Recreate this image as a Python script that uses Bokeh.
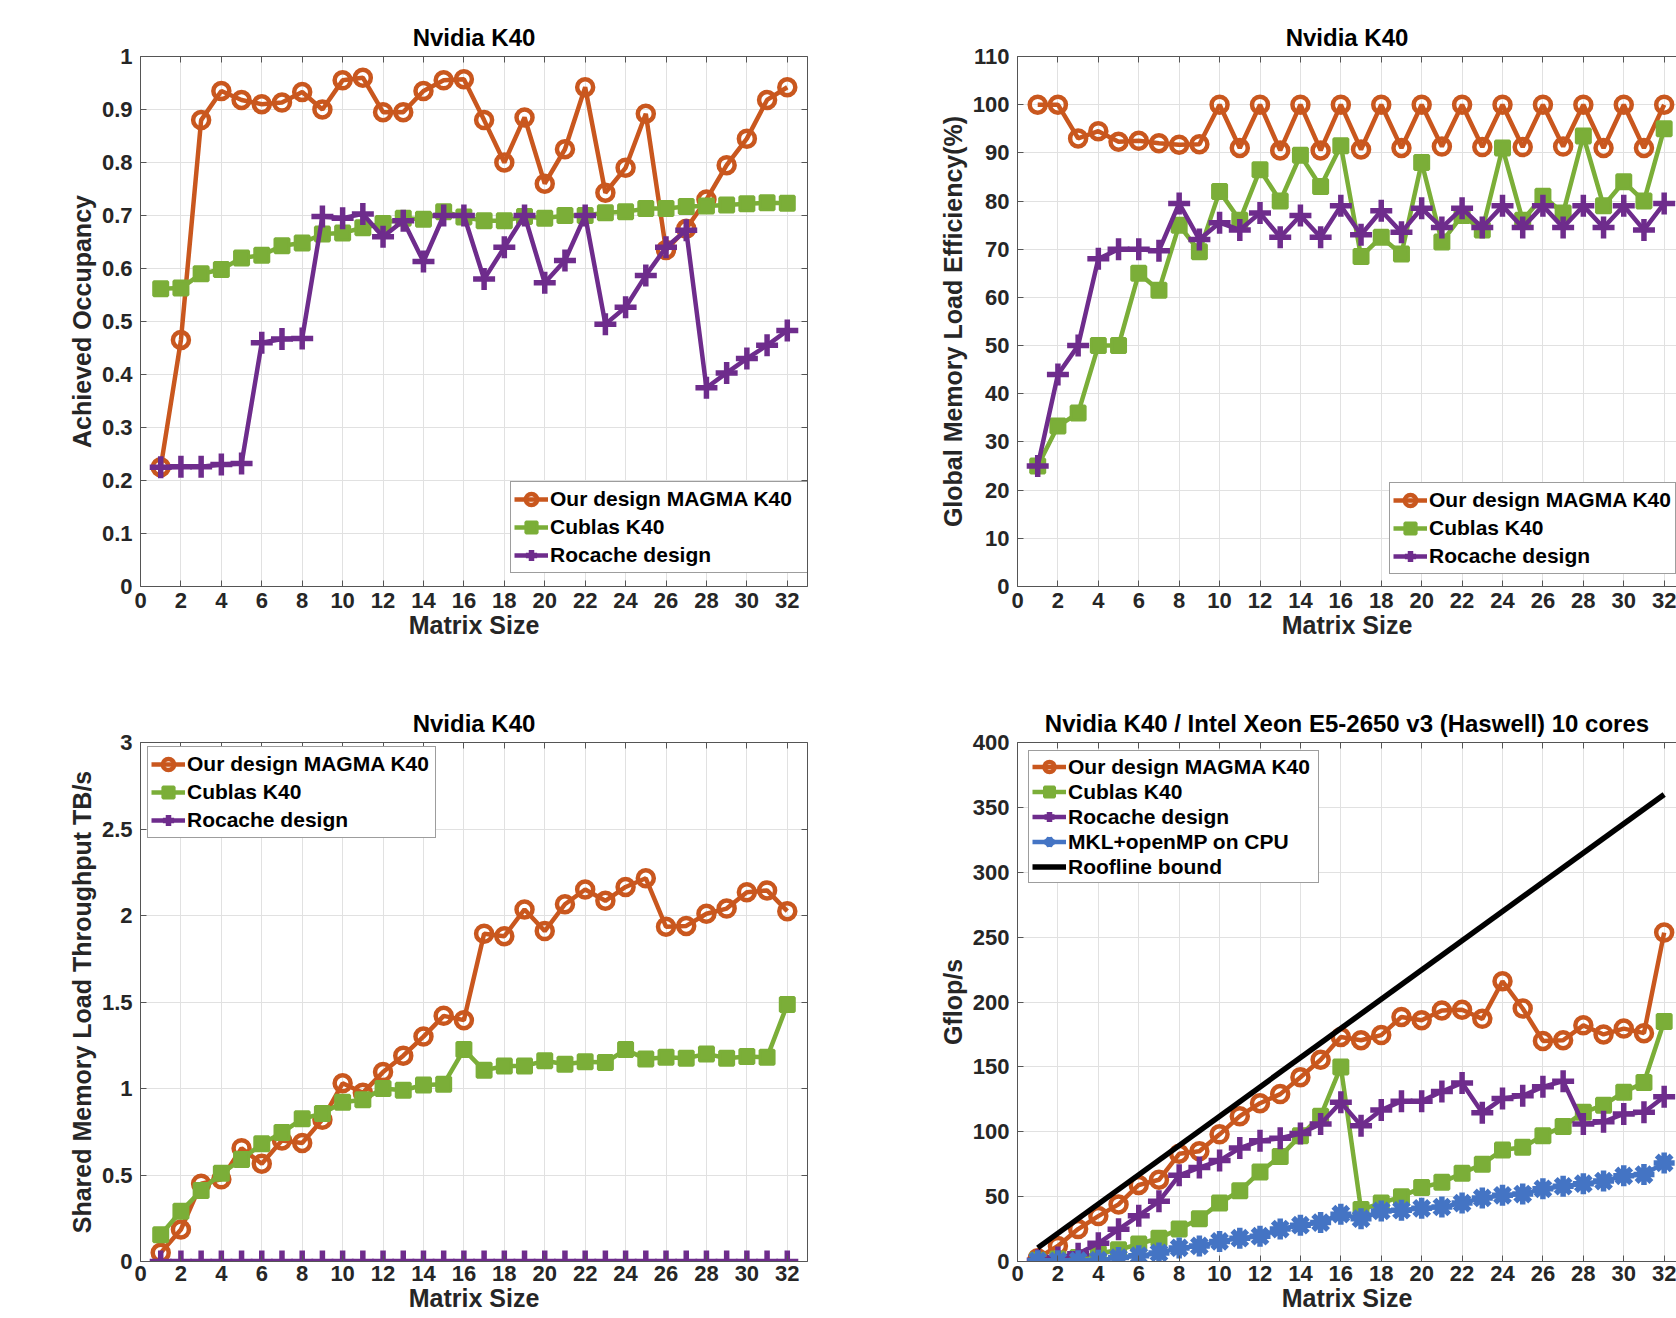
from bokeh.plotting import figure
from bokeh.models import Range1d, FixedTicker, LinearAxis, CustomJSTickFormatter
from bokeh.layouts import column, row
from bokeh.embed import file_html
from bokeh.resources import INLINE

# ---------------- data ----------------
matrix_size = list(range(1, 33))
x_ticks = list(range(0, 33, 2))

# Achieved Occupancy
occ_magma = [0.225, 0.465, 0.88, 0.935, 0.918, 0.91, 0.913, 0.933, 0.90, 0.955, 0.96, 0.895,
             0.895, 0.935, 0.955, 0.957, 0.88, 0.80, 0.885, 0.76, 0.825, 0.942, 0.743, 0.79,
             0.892, 0.635, 0.675, 0.73, 0.795, 0.845, 0.918, 0.942]
occ_cublas = [0.562, 0.563, 0.59, 0.598, 0.62, 0.625, 0.643, 0.648, 0.665, 0.667, 0.677, 0.685,
              0.695, 0.693, 0.707, 0.697, 0.69, 0.69, 0.698, 0.695, 0.70, 0.70, 0.705, 0.707,
              0.713, 0.713, 0.717, 0.718, 0.72, 0.722, 0.724, 0.723]
occ_rocache = [0.225, 0.226, 0.226, 0.23, 0.232, 0.46, 0.467, 0.468, 0.698, 0.695, 0.703, 0.66,
               0.69, 0.613, 0.70, 0.70, 0.58, 0.64, 0.70, 0.573, 0.615, 0.70, 0.495, 0.527,
               0.587, 0.64, 0.672, 0.375, 0.403, 0.43, 0.455, 0.483]
occ_ticks = [0, 0.1, 0.2, 0.3, 0.4, 0.5, 0.6, 0.7, 0.8, 0.9, 1.0]

# Global Memory Load Efficiency (%)
gld_magma = [100, 100, 93, 94.5, 92.3, 92.5, 92, 91.7, 91.8, 100, 91, 100, 90.5, 100, 90.5, 100,
             90.7, 100, 91, 100, 91.3, 100, 91.2, 100, 91.2, 100, 91.3, 100, 91, 100, 91, 100]
gld_cublas = [25, 33.3, 36, 50, 50, 65, 61.5, 75, 69.5, 82, 76, 86.5, 80, 89.5, 83, 91.5,
              68.5, 72.5, 69, 88, 71.5, 77, 74, 91, 76, 81, 77.5, 93.5, 79, 84, 80, 95]
gld_rocache = [25, 44, 50, 68, 70, 70, 69.7, 79.5, 72, 75.5, 74, 77.5, 72.5, 77, 72.5, 79,
               73, 78, 73.5, 78.5, 74.5, 78.5, 74.5, 79, 74.5, 79, 74.5, 79, 74.5, 79, 74, 79.5]
gld_ticks = [0, 10, 20, 30, 40, 50, 60, 70, 80, 90, 100, 110]

# Shared Memory Load Throughput TB/s
shm_magma = [0.05, 0.185, 0.45, 0.475, 0.655, 0.565, 0.70, 0.685, 0.82, 1.03, 0.975, 1.095,
             1.19, 1.30, 1.42, 1.395, 1.895, 1.88, 2.035, 1.91, 2.065, 2.15, 2.085, 2.165,
             2.215, 1.935, 1.94, 2.01, 2.04, 2.135, 2.145, 2.025]
shm_cublas = [0.155, 0.29, 0.41, 0.51, 0.59, 0.68, 0.745, 0.825, 0.855, 0.92, 0.935, 1.0,
              0.99, 1.02, 1.025, 1.225, 1.105, 1.13, 1.13, 1.16, 1.14, 1.155, 1.15, 1.225,
              1.17, 1.18, 1.175, 1.2, 1.175, 1.185, 1.18, 1.485]
shm_rocache = [0] * 32
shm_ticks = [0, 0.5, 1.0, 1.5, 2.0, 2.5, 3.0]

# Gflop/s
gf_magma = [2.5, 12, 25, 35, 44, 59, 63, 83, 85, 98, 112, 122, 129, 142, 155.5, 173,
            170.5, 174.5, 188.5, 186, 193.5, 194, 187, 216, 195, 170, 170.5, 182, 175, 179.5,
            176, 253.5]
gf_cublas = [1, 2, 3, 6, 9, 13.5, 18, 25, 33, 45, 54.5, 69, 81, 97, 112, 150,
             40, 45, 50, 57, 61, 68, 75, 86, 88, 97, 104, 115, 120.5, 130.5, 138, 185]
gf_rocache = [1, 3, 6, 14, 24.8, 35.3, 46.4, 66.4, 72.4, 77.8, 87.4, 93, 95, 98.7, 106, 122.7,
              104.7, 116.7, 123.6, 123.6, 131, 137.6, 114.6, 125.7, 127.8, 134.6, 139, 106,
              107.7, 113.7, 115, 127]
gf_mkl = [0.5, 0.5, 0.6, 1, 3, 4.5, 6.6, 10.5, 12, 15.5, 18, 19.5, 25, 28, 30, 36.5,
          33, 39, 39.5, 41, 42, 45, 49, 51, 52, 56, 58, 60, 62, 66, 67, 76]
roof_x = [1, 32]
roof_y = [10.5, 360]
gf_ticks = [0, 50, 100, 150, 200, 250, 300, 350, 400]

# ---------------- styling ----------------
FONT = "Liberation Sans"
ORANGE = "#C9571E"
GREEN = "#7BAE38"
PURPLE = "#6E2C8C"
BLUE = "#4474C4"
AXIS_COL = "#555555"
TEXT_COL = "#262626"
GRID_COL = "#e1e1e1"

FMT = "return (Math.round(tick * 1000) / 1000).toString();"


def mirror_axis(p, ticks, side):
    ax = LinearAxis(ticker=FixedTicker(ticks=ticks),
                    formatter=CustomJSTickFormatter(code="return '';"))
    ax.major_label_text_font_size = "0px"
    ax.major_label_standoff = 0
    ax.major_tick_in = 6
    ax.major_tick_out = 0
    ax.minor_tick_line_color = None
    ax.axis_line_color = AXIS_COL
    ax.major_tick_line_color = AXIS_COL
    p.add_layout(ax, side)


def make_fig(title, ylabel, y_end, y_ticks, left_col, top_row):
    width = 827 if left_col else 849
    height = 666 if top_row else 652
    x_end = 33 if left_col else 32.61
    p = figure(width=width, height=height,
               x_range=Range1d(0, x_end), y_range=Range1d(0, y_end),
               output_backend="svg", toolbar_location=None,
               min_border_left=140 if left_col else 190,
               min_border_right=20 if left_col else 0,
               min_border_top=56 if top_row else 76,
               min_border_bottom=80 if top_row else 57)
    p.outline_line_color = None
    p.background_fill_color = "white"
    p.border_fill_color = "white"

    p.title.text = title
    p.title.align = "center"
    p.title.text_font = FONT
    p.title.text_font_size = "24px"
    p.title.text_font_style = "bold"
    p.title.text_color = "black"
    p.title.standoff = 11

    p.xaxis.ticker = FixedTicker(ticks=x_ticks)
    p.yaxis.ticker = FixedTicker(ticks=y_ticks)
    p.xaxis.formatter = CustomJSTickFormatter(code=FMT)
    p.yaxis.formatter = CustomJSTickFormatter(code=FMT)
    p.xaxis.axis_label = "Matrix Size"
    p.yaxis.axis_label = ylabel
    for ax in (p.xaxis[0], p.yaxis[0]):
        ax.axis_line_color = AXIS_COL
        ax.major_tick_line_color = AXIS_COL
        ax.minor_tick_line_color = None
        ax.major_tick_in = 6
        ax.major_tick_out = 0
        ax.major_label_text_font = FONT
        ax.major_label_text_font_size = "22px"
        ax.major_label_text_font_style = "bold"
        ax.major_label_text_color = TEXT_COL
        ax.axis_label_text_font = FONT
        ax.axis_label_text_font_size = "25px"
        ax.axis_label_text_font_style = "bold"
        ax.axis_label_text_color = TEXT_COL
    p.xaxis.major_label_standoff = 6 if top_row else 4
    p.xaxis.axis_label_standoff = 0
    p.yaxis.major_label_standoff = 8
    p.yaxis.axis_label_standoff = 3

    p.xgrid.grid_line_color = GRID_COL
    p.ygrid.grid_line_color = GRID_COL
    p.xgrid.grid_line_width = 1
    p.ygrid.grid_line_width = 1

    mirror_axis(p, x_ticks, "above")
    if left_col:
        mirror_axis(p, y_ticks, "right")
    return p


def add_series(p, y, color, marker, label):
    p.line(matrix_size, y, line_color=color, line_width=4.5, legend_label=label)
    if marker == "circle":
        p.scatter(matrix_size, y, marker="circle", size=16, fill_color=None,
                  line_color=color, line_width=4.5, legend_label=label)
    elif marker == "square":
        p.scatter(matrix_size, y, marker="square", size=14, fill_color=color,
                  line_color=color, line_width=3, legend_label=label)
    elif marker == "cross":
        p.scatter(matrix_size, y, marker="cross", size=22, line_color=color,
                  line_width=5.5, legend_label=label)
    elif marker == "asterisk":
        p.scatter(matrix_size, y, marker="asterisk", size=21, line_color=color,
                  line_width=5.5, legend_label=label)


def style_legend(p, loc, row_h, label_w):
    leg = p.legend[0]
    leg.location = loc
    leg.margin = 0
    leg.padding = 3
    leg.spacing = 0
    leg.glyph_width = 34
    leg.glyph_height = row_h
    leg.label_height = row_h
    leg.label_width = label_w
    leg.label_standoff = 2
    leg.label_text_font = FONT
    leg.label_text_font_size = "21px"
    leg.label_text_font_style = "bold"
    leg.label_text_color = "black"
    leg.border_line_color = "#3c3c3c"
    leg.border_line_width = 1
    leg.background_fill_color = "white"
    leg.background_fill_alpha = 1.0


L_MAGMA = "Our design MAGMA K40"
L_CUBLAS = "Cublas K40"
L_ROCACHE = "Rocache design"
L_MKL = "MKL+openMP on CPU"
L_ROOF = "Roofline bound"

# top-left
p1 = make_fig("Nvidia K40", "Achieved Occupancy", 1, occ_ticks, True, True)
add_series(p1, occ_magma, ORANGE, "circle", L_MAGMA)
add_series(p1, occ_cublas, GREEN, "square", L_CUBLAS)
add_series(p1, occ_rocache, PURPLE, "cross", L_ROCACHE)
style_legend(p1, (370, 13), 28, 255)

# top-right
p2 = make_fig("Nvidia K40", "Global Memory Load Efficiency(%)", 110, gld_ticks, False, True)
add_series(p2, gld_magma, ORANGE, "circle", L_MAGMA)
add_series(p2, gld_cublas, GREEN, "square", L_CUBLAS)
add_series(p2, gld_rocache, PURPLE, "cross", L_ROCACHE)
style_legend(p2, (372, 12), 28, 243)

# bottom-left
p3 = make_fig("Nvidia K40", "Shared Memory Load Throughput TB/s", 3, shm_ticks, True, False)
add_series(p3, shm_magma, ORANGE, "circle", L_MAGMA)
add_series(p3, shm_cublas, GREEN, "square", L_CUBLAS)
add_series(p3, shm_rocache, PURPLE, "cross", L_ROCACHE)
style_legend(p3, (7, 423), 28, 245)

# bottom-right
p4 = make_fig("Nvidia K40 / Intel Xeon E5-2650 v3 (Haswell) 10 cores", "Gflop/s", 400,
              gf_ticks, False, False)
add_series(p4, gf_magma, ORANGE, "circle", L_MAGMA)
add_series(p4, gf_cublas, GREEN, "square", L_CUBLAS)
add_series(p4, gf_rocache, PURPLE, "cross", L_ROCACHE)
add_series(p4, gf_mkl, BLUE, "asterisk", L_MKL)
p4.line(roof_x, roof_y, line_color="black", line_width=5.5, legend_label=L_ROOF)
style_legend(p4, (11, 378), 25, 247)

layout = column(row(p1, p2), row(p3, p4))
html = file_html(layout, INLINE, title="Nvidia K40 performance")
open("out.html", "w").write(html)
